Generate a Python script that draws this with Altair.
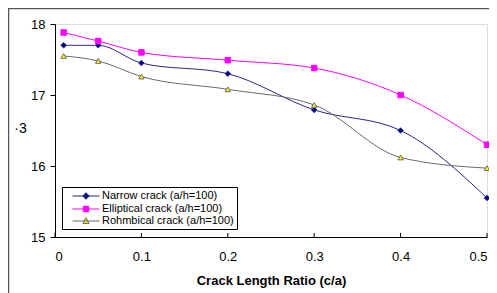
import altair as alt
import pandas as pd

# ---- data ----
x_vals = [0.01, 0.05, 0.1, 0.2, 0.3, 0.4, 0.5]
series_names = ["Narrow crack (a/h=100)", "Elliptical crack (a/h=100)", "Rohmbical crack (a/h=100)"]
narrow = [17.70, 17.70, 17.45, 17.30, 16.79, 16.50, 15.55]
elliptical = [17.88, 17.76, 17.60, 17.49, 17.38, 17.00, 16.30]
rhombical = [17.55, 17.48, 17.26, 17.08, 16.86, 16.12, 15.97]
x_ticks = [0, 0.1, 0.2, 0.3, 0.4, 0.5]
y_ticks = [15, 16, 17, 18]

rows = []
for name, vals in zip(series_names, [narrow, elliptical, rhombical]):
    for xv, yv in zip(x_vals, vals):
        rows.append({"series": name, "x": xv, "y": yv})
df = pd.DataFrame(rows)
tick_df = pd.DataFrame({"x": x_ticks})

W, H = 432, 213
FONT = "Liberation Sans"
line_colors = ["#26268f", "#ff00ff", "#6a6a6a"]
fill_colors = ["#000080", "#ff00ff", "#ffff00"]
shapes = ["diamond", "square", "triangle-up"]
# legend symbols: a line segment with the marker in its middle (unit r = 5.5px)
legend_shapes = [
    "M-2.45,0H2.45M0,-0.6L0.6,0L0,0.6L-0.6,0Z",
    "M-2.45,0H2.45M-0.5,-0.5H0.5V0.5H-0.5Z",
    "M-2.45,0H2.45M0,-0.6L0.55,0.45H-0.55Z",
]

x_scale = alt.Scale(domain=[0, 0.5], nice=False, zero=False)
y_scale = alt.Scale(domain=[15, 18], nice=False, zero=False)

legend = alt.Legend(
    title=None,
    orient="none",
    legendX=7,
    legendY=163,
    padding=3,
    rowPadding=1,
    strokeColor="black",
    fillColor="white",
    labelFont=FONT,
    labelFontSize=11,
    labelColor="black",
    symbolOffset=15,
    labelOffset=10,
    symbolSize=121,
    symbolStrokeWidth=1,
)

x_enc = alt.X("x:Q", scale=x_scale, axis=alt.Axis(
    values=x_ticks, format="~g", ticks=False, labelPadding=13, labelFontSize=13,
    labelFont=FONT, labelColor="black", domainColor="black", grid=False,
    title="Crack Length Ratio (c/a)", titleFont=FONT, titleFontSize=13,
    titleFontWeight="bold", titlePadding=11, titleColor="black"))
y_enc = alt.Y("y:Q", scale=y_scale, axis=alt.Axis(
    values=y_ticks, format="d", tickSize=5, tickColor="black", labelPadding=5,
    labelFontSize=13, labelFont=FONT, labelColor="black", domainColor="black",
    grid=False, title="·3", titleAngle=0, titleX=-35, titleY=104, titleAlign="center",
    titleBaseline="middle", titleFont=FONT, titleFontSize=14,
    titleFontWeight="normal", titleColor="black"))

stroke_scale = alt.Scale(domain=series_names, range=line_colors)
fill_scale = alt.Scale(domain=series_names, range=fill_colors)

base = alt.Chart(df)
lines = base.mark_line(interpolate="monotone", strokeWidth=1).encode(
    x=x_enc, y=y_enc, stroke=alt.Stroke("series:N", scale=stroke_scale, legend=None),
    detail="series:N")
points = base.mark_point(filled=True, size=30, strokeWidth=1, opacity=1).encode(
    x=x_enc, y=y_enc,
    stroke=alt.Stroke("series:N", scale=stroke_scale, legend=None),
    fill=alt.Fill("series:N", scale=fill_scale, legend=None),
    shape=alt.Shape("series:N", scale=alt.Scale(domain=series_names, range=shapes), legend=None))

# legend-only layer (no marks drawn)
legend_layer = base.transform_filter("false").mark_point(
    filled=True, size=121, strokeWidth=1, opacity=1).encode(
    x=alt.X("x:Q", scale=x_scale), y=alt.Y("y:Q", scale=y_scale),
    stroke=alt.Stroke("series:N", scale=stroke_scale, legend=legend),
    fill=alt.Fill("series:N", scale=fill_scale, legend=legend),
    shape=alt.Shape("series:N", scale=alt.Scale(domain=series_names, range=legend_shapes), legend=legend))

inner_ticks = alt.Chart(tick_df).mark_rule(color="black", strokeWidth=1).encode(
    x=alt.X("x:Q", scale=x_scale), y=alt.value(H - 4), y2=alt.value(H))

frame_df = pd.DataFrame({"a": [0]})
frame_top = alt.Chart(frame_df).mark_rule(color="#555555", strokeWidth=1.5).encode(
    x=alt.value(-47), x2=alt.value(W + 4), y=alt.value(-15.5))
frame_left = alt.Chart(frame_df).mark_rule(color="#555555", strokeWidth=1.5).encode(
    x=alt.value(-46.5), y=alt.value(-16), y2=alt.value(H + 60))

chart = alt.layer(frame_top, frame_left, inner_ticks, lines, points, legend_layer).resolve_scale(
    stroke="independent", fill="independent", shape="independent"
).properties(
    width=W, height=H,
    autosize=alt.AutoSizeParams(type="none"),
    padding={"left": 47, "top": 16, "right": 2, "bottom": 56},
).configure_view(stroke="#808080", strokeWidth=1).configure(background="white")

chart.save("out.html", embed_options={"renderer": "svg", "actions": False})
